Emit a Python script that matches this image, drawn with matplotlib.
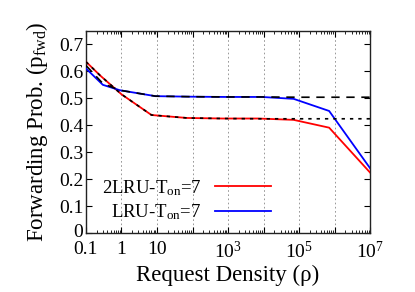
import matplotlib
matplotlib.use("Agg")
import matplotlib.pyplot as plt
import matplotlib.transforms as mtransforms
from matplotlib.ticker import LogLocator, FixedLocator, FixedFormatter, NullFormatter

plt.rcParams['font.family'] = ['Liberation Serif', 'DejaVu Serif']
plt.rcParams['mathtext.fontset'] = 'custom'
plt.rcParams['mathtext.rm'] = 'Liberation Serif'
plt.rcParams['mathtext.it'] = 'Liberation Serif:italic'

# Simulation: 2LRU
x_2lru = [0.1, 0.25, 1, 7, 70, 700, 7e3, 7e4, 7e5, 1e7]
y_2lru = [0.636, 0.585, 0.515, 0.438, 0.427, 0.425, 0.425, 0.420, 0.391, 0.224]
# Simulation: LRU
x_lru = [0.1, 0.3, 0.9, 9, 90, 900, 9e3, 7e4, 7e5, 1e7]
y_lru = [0.611, 0.550, 0.530, 0.508, 0.506, 0.505, 0.505, 0.498, 0.453, 0.240]
# Model (black) curves
x_mod_lru = [0.1, 0.3, 0.9, 9, 90, 900, 9e3, 1e5, 1e7]
y_mod_lru = [0.622, 0.555, 0.530, 0.508, 0.506, 0.505, 0.505, 0.504, 0.504]
x_mod_2lru = [0.1, 0.25, 1, 7, 70, 700, 7e3, 1e5, 1e7]
y_mod_2lru = [0.636, 0.585, 0.515, 0.438, 0.427, 0.425, 0.424, 0.424, 0.424]

xtick_vals = [0.1, 1, 10, 1e3, 1e5, 1e7]
xtick_labels = ['0.1', '1', '10', r'$10^3$', r'$10^5$', r'$10^7$']
ytick_vals = [0, 0.1, 0.2, 0.3, 0.4, 0.5, 0.6, 0.7]
ytick_labels = ['0', '0.1', '0.2', '0.3', '0.4', '0.5', '0.6', '0.7']

fig = plt.figure(figsize=(4.15, 2.92), dpi=100)
ax = fig.add_axes([0.207, 0.202, 0.685, 0.692])

ax.plot(x_2lru, y_2lru, color='#ff0000', lw=1.3, label=r'2LRU-T$_{\rm on}$=7', zorder=3)
ax.plot(x_lru, y_lru, color='#0000ff', lw=1.3, label=r'LRU-T$_{\rm on}$=7', zorder=3)
ax.plot(x_mod_lru, y_mod_lru, color='black', lw=1.2, ls=(0, (5, 4)), zorder=4)
ax.plot(x_mod_2lru, y_mod_2lru, color='black', lw=1.2, ls=(0, (2, 3)), zorder=4)

ax.set_xscale('log')
ax.set_xlim(0.1, 1e7)
ax.set_ylim(0, 0.75)

# grid at decades
for d in [1, 10, 100, 1e3, 1e4, 1e5, 1e6]:
    ax.axvline(d, color='#888888', lw=0.6, ls=(0, (2, 3)), zorder=1)

ax.xaxis.set_major_locator(FixedLocator([10.0**k for k in range(-1, 8)]))
labels_all = []
for k in range(-1, 8):
    v = 10.0**k
    lab = ''
    for tv, tl in zip(xtick_vals, xtick_labels):
        if abs(tv - v) / v < 1e-6:
            lab = tl
    labels_all.append(lab)
ax.xaxis.set_major_formatter(FixedFormatter(labels_all))
ax.xaxis.set_minor_locator(LogLocator(base=10, subs=range(2, 10), numticks=100))
ax.xaxis.set_minor_formatter(NullFormatter())
ax.set_yticks(ytick_vals)
ax.set_yticklabels(ytick_labels)

ax.tick_params(which='both', direction='in', top=True, right=True, labelsize=14)
ax.tick_params(axis='x', pad=5.5)
ax.tick_params(axis='y', pad=2)
ax.tick_params(which='major', length=4, width=0.8)
ax.tick_params(which='minor', length=2, width=0.6)
for s in ax.spines.values():
    s.set_linewidth(1.0)
    s.set_color('#222222')

# nudge the "0" y label up slightly so it doesn't collide with "0.1"
lab0 = ax.get_yticklabels()[0]
lab0.set_transform(lab0.get_transform() + mtransforms.ScaledTranslation(0, 3 / 100, fig.dpi_scale_trans))

ax.set_xlabel('Request Density (ρ)', fontsize=16.5, labelpad=2)
ax.set_ylabel(r'Forwarding Prob. (p$_{\rm fwd}$)', fontsize=16.5, labelpad=6)

ax.legend(loc='center right', bbox_to_anchor=(0.651, 0.163), frameon=False, markerfirst=False,
          fontsize=13.5, handlelength=3.0, handletextpad=0.7, labelspacing=0.25,
          borderpad=0, borderaxespad=0)

fig.savefig('out.png', dpi=100)
